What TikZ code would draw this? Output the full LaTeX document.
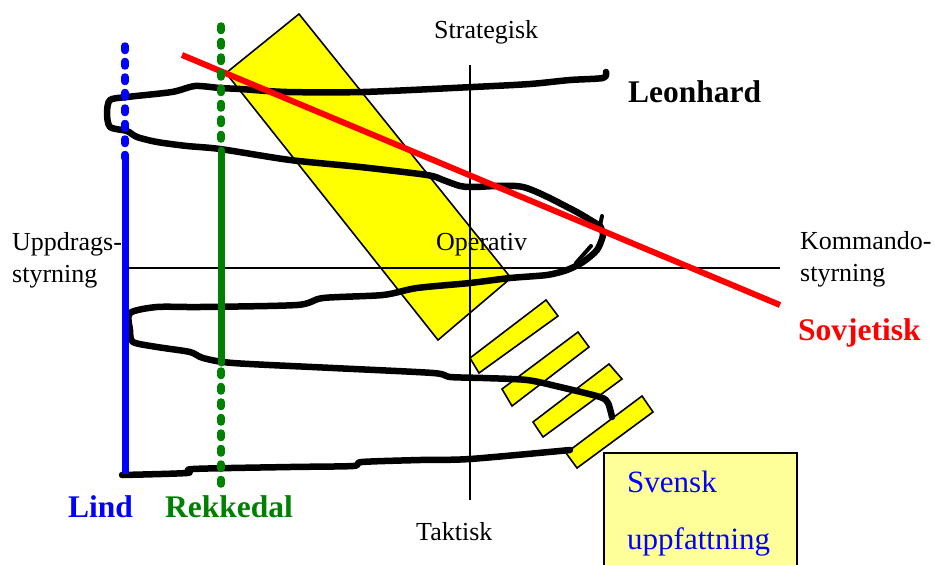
\documentclass[tikz,border=0pt]{standalone}
\usepackage{fontspec}
\setmainfont{Liberation Serif}
\definecolor{dgreen}{RGB}{0,128,0}
\definecolor{lyellow}{RGB}{255,255,153}
\definecolor{yel}{RGB}{255,255,0}
\definecolor{rd}{RGB}{255,0,0}
\definecolor{bl}{RGB}{0,0,255}
\begin{document}
\begin{tikzpicture}[x=1pt,y=-1pt,
  ybox/.style={fill=yel,draw=black,line width=1.6pt,line join=miter},
  axis/.style={draw=black,line width=1.7pt},
  hand/.style={draw=black,line width=6.5pt,line cap=round,line join=round},
  lbl/.style={anchor=base west,inner sep=0pt,font=\fontsize{26}{28}\selectfont},
  blbl/.style={anchor=base west,inner sep=0pt,font=\fontsize{31.5}{34}\selectfont\bfseries},
  dotline/.style={line width=7.5pt,line cap=round,dash pattern=on 4.5pt off 11pt},
  solidline/.style={line width=7pt,line cap=round}]
\clip (0,0) rectangle (935,565);
\fill[white] (0,0) rectangle (935,565);
% big yellow rectangle
\draw[ybox] (299,14) -- (511,278) -- (438,340) -- (226,73) -- cycle;
% small yellow rectangles
\draw[ybox] (546,300) -- (558,316) -- (479,373) -- (470,358) -- cycle;
\draw[ybox] (578,332) -- (589,347) -- (512,406) -- (502,389) -- cycle;
\draw[ybox] (609,364) -- (622,379) -- (543,437) -- (533,422) -- cycle;
\draw[ybox] (642,396) -- (653,412) -- (577,468) -- (566,453) -- cycle;
% axes
\coordinate (hl) at (125,268); \coordinate (hr) at (780,268);
\coordinate (vt) at (470,65); \coordinate (vb) at (470,500);
\draw[axis] (hl) -- (hr);
\draw[axis] (vt) -- (vb);
% black hand-drawn curve
\draw[hand] plot[smooth,tension=0.45] coordinates {
 (606,72) (603,78) (570,80) (530,84) (473,87) (363,92) (287,92) (240,89) (220,88)
 (195,86) (172,92) (127,97) (110,100) (107,113) (110,127) (127,131) (137,137)
 (157,142) (187,146) (220,149) (290,160) (360,167) (427,175) (443,180) (460,186)
 (473,187) (523,187) (573,210) (600,226)};
\draw[hand,line width=4pt] (602,216) -- (600,226);
\draw[hand] plot[smooth,tension=0.45] coordinates {
 (600,226) (603,235) (597,250) (583,262) (567,270) (547,275) (510,278) (470,283)
 (417,288) (383,295) (323,298) (297,305) (200,307) (157,307) (130,313) (130,330)
 (133,342) (157,347) (190,352) (203,358) (233,363) (333,368) (433,373) (450,377)
 (483,378) (527,380) (560,387) (600,397) (608,403) (612,417)};
\draw[hand,line width=4pt] (591,246) -- (576,263);
\draw[hand] plot[smooth,tension=0.45] coordinates {
 (122,475) (187,473) (193,469) (290,467) (353,466) (362,462) (420,460) (470,459) (570,450)};
% red line
\coordinate (ra) at (182,55); \coordinate (rb) at (780,305);
\draw[rd,line width=6pt] (ra) -- (rb);
% blue line (Lind)
\coordinate (b1) at (125,46); \coordinate (b2) at (125,158); \coordinate (b3) at (125,474);
\draw[bl,dotline] (b1) -- (b2);
\draw[bl,solidline,line cap=butt] (b2) -- (b3);
% green line (Rekkedal)
\coordinate (g1) at (221,26); \coordinate (g2) at (221,140);
\coordinate (g3) at (221,150); \coordinate (g4) at (221,363);
\coordinate (g5) at (221,371); \coordinate (g6) at (221,486);
\draw[dgreen,dotline] (g1) -- (g2);
\draw[dgreen,solidline] (g3) -- (g4);
\draw[dgreen,dotline] (g5) -- (g6);
% Svensk uppfattning box
\draw[fill=lyellow,draw=black,line width=2pt] (604,453) rectangle (797,580);
% labels
\node[lbl] (strat) at (434,38) {Strategisk};
\node[blbl] (leon) at (628,102) {Leonhard};
\node[lbl] (upp1) at (12,250) {Uppdrags-};
\node[lbl] (upp2) at (12,282) {styrning};
\node[lbl] (oper) at (436,250) {Operativ};
\node[lbl] (kom1) at (800,249) {Kommando-};
\node[lbl] (kom2) at (800,281) {styrning};
\node[blbl,text=rd] (sovj) at (798,340) {Sovjetisk};
\node[blbl,text=bl] (lind) at (68,517) {Lind};
\node[blbl,text=dgreen] (rekk) at (165,517) {Rekkedal};
\node[lbl] (takt) at (416,540) {Taktisk};
\node[anchor=base west,inner sep=0pt,font=\fontsize{31}{34}\selectfont,text=bl] (sv1) at (627,492) {Svensk};
\node[anchor=base west,inner sep=0pt,font=\fontsize{31}{34}\selectfont,text=bl] (sv2) at (627,549) {uppfattning};
\end{tikzpicture}
\end{document}
